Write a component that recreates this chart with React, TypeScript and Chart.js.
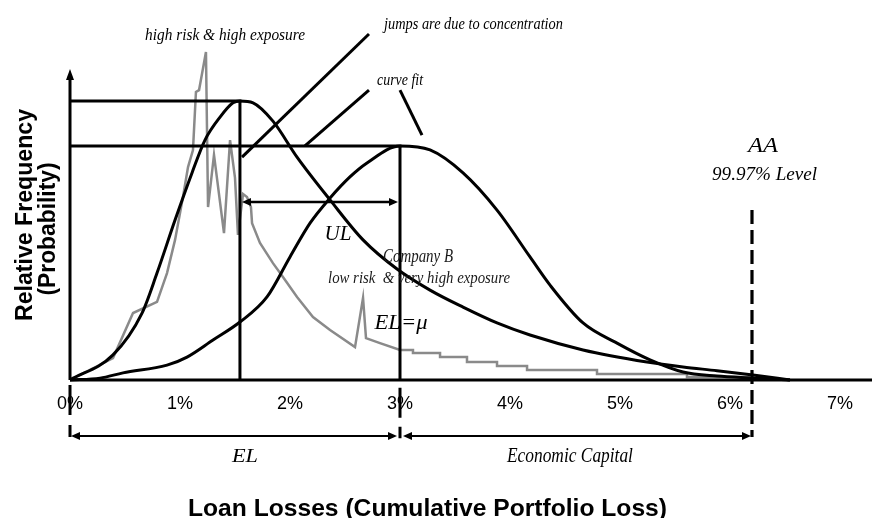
import React, { useEffect, useRef } from "react";
import { Chart, registerables } from "chart.js";

Chart.register(...registerables);

// ---- data (x in % loan loss, y in relative frequency units) ----
const curveAX = [0, 0.391, 0.655, 0.791, 0.955, 1.109, 1.227, 1.364, 1.482, 1.545, 1.664, 1.845, 2.064, 2.364, 2.664, 2.973, 3.273, 3.573, 3.882, 4.182, 4.664, 5.245, 5.573, 5.882, 6.209, 6.545];
const curveAY = [0, 8.1, 21.6, 34.5, 51.6, 66.8, 77.4, 84.8, 89.4, 90.0, 89.4, 83.5, 71.9, 58.1, 45.2, 35.8, 29.0, 23.5, 18.4, 14.5, 9.7, 5.8, 4.2, 3.0, 1.6, 0];

const curveBX = [0, 0.273, 0.482, 0.882, 1.064, 1.3, 1.545, 1.791, 2.0, 2.182, 2.364, 2.545, 2.7, 3.0, 3.273, 3.573, 3.882, 4.182, 4.364, 4.664, 4.973, 5.273, 5.573, 5.882, 6.209, 6.545];
const curveBY = [0, 0.6, 2.3, 4.8, 7.4, 12.9, 18.7, 26.8, 39.7, 50.6, 58.7, 65.5, 70.0, 75.5, 74.2, 66.8, 54.8, 39.7, 30.6, 18.4, 11.9, 6.5, 2.6, 1.3, 0.65, 0];

const empiricalX = [0, 0.391, 0.573, 0.791, 0.882, 0.955, 1.027, 1.073, 1.118, 1.145, 1.173, 1.236, 1.255, 1.309, 1.4, 1.455, 1.5, 1.527, 1.573, 1.609, 1.645, 1.655, 1.727, 1.845, 1.936, 2.064, 2.209, 2.364, 2.591, 2.664, 2.691, 2.818, 3.0, 3.118, 3.118, 3.364, 3.364, 3.609, 3.609, 3.882, 3.882, 4.155, 4.155, 4.791, 4.791, 5.609, 5.609, 6.182];
const empiricalY = [0, 7.1, 21.6, 25.2, 34.5, 45.2, 59.0, 68.7, 74.2, 92.9, 93.5, 105.8, 55.8, 72.6, 47.4, 77.4, 65.2, 46.8, 60.0, 59.0, 55.8, 50.6, 44.2, 37.7, 33.2, 26.8, 20.3, 16.1, 10.6, 26.5, 13.5, 11.9, 9.68, 9.68, 8.71, 8.71, 7.42, 7.42, 5.81, 5.81, 4.52, 4.52, 3.23, 3.23, 1.94, 1.94, 0.97, 0.97];

const xTicks = [0, 1, 2, 3, 4, 5, 6, 7];
const xTickLabels = ["0%", "1%", "2%", "3%", "4%", "5%", "6%", "7%"];

const PEAK_A_X = 1.545;
const PEAK_A_Y = 90;
const EL_X = 3.0;
const PEAK_B_Y = 75.5;
const AA_X = 6.2;
const X_MAX = 7.291;
const Y_MAX = 100;

const zip = (xs: number[], ys: number[]) => xs.map((x, i) => ({ x, y: ys[i] }));

const SERIF = '"Liberation Serif", "DejaVu Serif", serif';
const SANS = '"Liberation Sans", Arial, sans-serif';

const overlay = {
  id: "overlay",
  afterDatasetsDraw(chart: any) {
    const ctx: CanvasRenderingContext2D = chart.ctx;
    const xs = chart.scales.x;
    const ys = chart.scales.y;
    const ca = chart.chartArea;
    const X = (v: number) => xs.getPixelForValue(v);
    const Y = (v: number) => ys.getPixelForValue(v);

    ctx.save();
    ctx.strokeStyle = "#000";
    ctx.fillStyle = "#000";
    ctx.lineCap = "butt";

    const seg = (x1: number, y1: number, x2: number, y2: number, w: number, dash: number[] = []) => {
      ctx.beginPath();
      ctx.lineWidth = w;
      ctx.setLineDash(dash);
      ctx.moveTo(x1, y1);
      ctx.lineTo(x2, y2);
      ctx.stroke();
      ctx.setLineDash([]);
    };
    const head = (tx: number, ty: number, dx: number, dy: number, len: number, half: number) => {
      const nx = -dy, ny = dx;
      ctx.beginPath();
      ctx.moveTo(tx, ty);
      ctx.lineTo(tx - dx * len + nx * half, ty - dy * len + ny * half);
      ctx.lineTo(tx - dx * len - nx * half, ty - dy * len - ny * half);
      ctx.closePath();
      ctx.fill();
    };
    const text = (s: string, cx: number, by: number, font: string, width?: number, rot = false) => {
      ctx.font = font;
      const m = ctx.measureText(s).width;
      const sx = width ? width / m : 1;
      ctx.save();
      ctx.translate(cx, by);
      if (rot) ctx.rotate(-Math.PI / 2);
      ctx.scale(sx, 1);
      ctx.textAlign = "center";
      ctx.textBaseline = "alphabetic";
      ctx.fillText(s, 0, 0);
      ctx.restore();
    };

    // axes
    seg(X(0), Y(0), X(X_MAX), Y(0), 3);
    seg(X(0), Y(0), X(0), Y(Y_MAX) + 8, 3);
    head(X(0), Y(Y_MAX) - 1, 0, -1, 11, 4);

    // peak reference lines
    seg(X(0), Y(PEAK_A_Y), X(PEAK_A_X) + 1.5, Y(PEAK_A_Y), 3);
    seg(X(PEAK_A_X), Y(PEAK_A_Y), X(PEAK_A_X), Y(0), 3);
    seg(X(0), Y(PEAK_B_Y), X(EL_X) + 1.5, Y(PEAK_B_Y), 3);
    seg(X(EL_X), Y(PEAK_B_Y), X(EL_X), Y(0), 3);

    // UL double arrow
    const ulY = Y(57.4);
    const ul1 = X(PEAK_A_X) + 2, ul2 = X(EL_X) - 2;
    seg(ul1 + 6, ulY, ul2 - 6, ulY, 2.5);
    head(ul1, ulY, -1, 0, 9, 4);
    head(ul2, ulY, 1, 0, 9, 4);

    // leader lines
    seg(X(2.718), Y(111.6), X(1.564), Y(71.9), 3);
    seg(X(2.718), Y(93.5), X(2.136), Y(75.5), 3);
    seg(X(3.0), Y(93.5), X(3.2), Y(79.0), 3);

    // AA dashed line
    seg(X(AA_X), Y(54.8), X(AA_X), Y(-18.4), 3.2, [14, 6]);
    // dashed ticks below the axis
    seg(X(0), Y(-1.6), X(0), Y(-18.4), 3, [30, 10]);
    seg(X(EL_X), Y(-2.5), X(EL_X), Y(-18.8), 3, [30, 9]);

    // EL and Economic Capital arrows
    const arY = Y(-18.06);
    seg(X(0) + 6, arY, X(EL_X) - 8, arY, 2);
    head(X(0) + 1, arY, -1, 0, 9, 4);
    head(X(EL_X) - 3, arY, 1, 0, 9, 4);
    seg(X(EL_X) + 8, arY, X(AA_X) - 6, arY, 2);
    head(X(EL_X) + 3, arY, -1, 0, 9, 4);
    head(X(AA_X) - 1, arY, 1, 0, 9, 4);

    // tick labels
    xTicks.forEach((v, i) => {
      text(xTickLabels[i], X(v), ca.bottom + 29, `18px ${SANS}`);
    });

    // annotations (italic serif)
    const it = (px: number) => `italic ${px}px ${SERIF}`;
    text("high risk & high exposure", X(1.409), Y(109.68), it(17), 160);
    text("jumps are due to concentration", X(3.668), Y(113.23), it(17), 179);
    text("curve fit", X(3.0), Y(95.16), it(17), 46);
    text("AA", X(6.3), Y(73.55), it(21), 30);
    text("99.97% Level", X(6.314), Y(64.52), it(19), 105);
    text("UL", X(2.436), Y(45.16), it(22), 27);
    ctx.fillStyle = "#1a1a1a";
    text("Company B", X(3.164), Y(38.06), it(18), 70);
    text("low risk  & very high exposure", X(3.173), Y(31.29), it(17), 182);
    ctx.fillStyle = "#000";
    text("EL=μ", X(3.009), Y(16.45), it(21), 53);
    text("EL", X(1.591), Y(-26.45), it(19), 26);
    text("Economic Capital", X(4.545), Y(-26.45), it(20), 126);

    // axis titles (bold sans)
    text("Loan Losses (Cumulative Portfolio Loss)", 427.5, ca.bottom + 136, `bold 24px ${SANS}`, 479);
    text("Relative Frequency", 32, 215, `bold 23px ${SANS}`, 212, true);
    text("(Probability)", 55, 229, `bold 23px ${SANS}`, 133, true);

    ctx.restore();
  },
};

export default function App() {
  const ref = useRef<HTMLCanvasElement | null>(null);

  useEffect(() => {
    if (!ref.current) return;
    const chart = new Chart(ref.current, {
      type: "scatter",
      data: {
        datasets: [
          {
            label: "Curve fit A",
            data: zip(curveAX, curveAY),
            showLine: true,
            borderColor: "#000",
            borderWidth: 3,
            cubicInterpolationMode: "monotone",
            pointRadius: 0,
            clip: false,
          } as any,
          {
            label: "Curve fit B",
            data: zip(curveBX, curveBY),
            showLine: true,
            borderColor: "#000",
            borderWidth: 3,
            cubicInterpolationMode: "monotone",
            pointRadius: 0,
            clip: false,
          } as any,
          {
            label: "Empirical",
            data: zip(empiricalX, empiricalY),
            showLine: true,
            borderColor: "#8a8a8a",
            borderWidth: 2.5,
            tension: 0,
            pointRadius: 0,
            clip: false,
          } as any,
        ],
      },
      options: {
        responsive: false,
        maintainAspectRatio: false,
        animation: false,
        devicePixelRatio: 1,
        layout: { padding: { left: 70, right: 0, top: 70, bottom: 138 } },
        scales: {
          x: { type: "linear", min: 0, max: X_MAX, display: false },
          y: { type: "linear", min: 0, max: Y_MAX, display: false },
        },
        plugins: {
          legend: { display: false },
          tooltip: { enabled: false },
        },
        events: [],
      },
      plugins: [overlay],
    });
    return () => chart.destroy();
  }, []);

  return (
    <div style={{ position: "fixed", left: 0, top: 0, width: 872, height: 518, background: "#fff" }}>
      <canvas ref={ref} width={872} height={518} style={{ display: "block", width: 872, height: 518 }} />
    </div>
  );
}
